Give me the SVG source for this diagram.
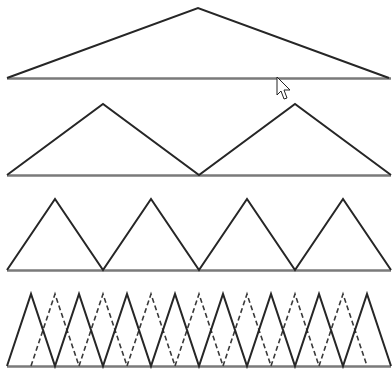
<svg xmlns="http://www.w3.org/2000/svg" width="392" height="370" viewBox="0 0 392 370">
<style>
.side{fill:none;stroke:#262626;stroke-width:2;stroke-linejoin:miter}
.dash{fill:none;stroke:#3a3a3a;stroke-width:1.6;stroke-dasharray:5 3}
.base{stroke:#7a7a7a;stroke-width:2.6}
</style>
<rect width="392" height="370" fill="#fff"/>
<g id="row1">
<line class="base" x1="7" y1="78.5" x2="391" y2="78.5"/>
<polyline class="side" points="7,78 198,8 389,78"/>
</g>
<g id="row2">
<line class="base" x1="7" y1="175.5" x2="391" y2="175.5"/>
<polyline class="side" points="7,175 103,104 199,175 295,104 391,175"/>
</g>
<g id="row3">
<line class="base" x1="7" y1="270.5" x2="391" y2="270.5"/>
<polyline class="side" points="7,270 55,199 103,270 151,199 199,270 247,199 295,270 343,199 391,270"/>
</g>
<g id="row4">
<line class="base" x1="7" y1="366.5" x2="391" y2="366.5"/>
<polyline class="dash" points="31,366 55,294 79,366"/>
<polyline class="dash" points="79,366 103,294 127,366"/>
<polyline class="dash" points="127,366 151,294 175,366"/>
<polyline class="dash" points="175,366 199,294 223,366"/>
<polyline class="dash" points="223,366 247,294 271,366"/>
<polyline class="dash" points="271,366 295,294 319,366"/>
<polyline class="dash" points="319,366 343,294 367,366"/>
<polyline class="side" points="7,366 31,294 55,366 79,294 103,366 127,294 151,366 175,294 199,366 223,294 247,366 271,294 295,366 319,294 343,366 367,294 391,366"/>
</g>
<g id="cursor">
<path d="M277,77 L277,95 L281,91 L284,99 L287,98 L284,90 L290,90 Z" fill="#fff" stroke="#222" stroke-width="1" stroke-linejoin="round"/>
</g>
</svg>
